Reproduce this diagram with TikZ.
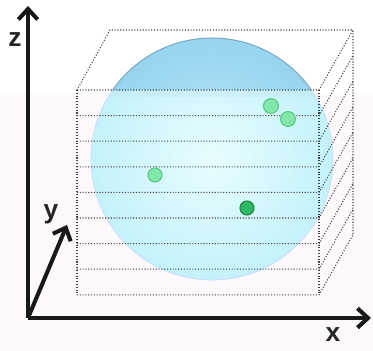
\documentclass[tikz,border=0pt]{standalone}
\usepackage{fontspec}
\setmainfont{Liberation Sans}
\usetikzlibrary{arrows.meta}
\definecolor{pagetint}{RGB}{253,248,251}
\definecolor{spherein}{RGB}{232,253,255}
\definecolor{sphereout}{RGB}{196,242,250}
\definecolor{capin}{RGB}{190,230,247}
\definecolor{capout}{RGB}{150,212,240}
\definecolor{capedge}{RGB}{125,170,195}
\definecolor{atomfill}{RGB}{130,232,170}
\definecolor{atomedge}{RGB}{90,200,135}
\definecolor{atomdark}{RGB}{45,185,100}
\definecolor{atomdarkedge}{RGB}{30,130,70}
\begin{document}
\begin{tikzpicture}[x=0.02cm,y=-0.02cm,
  axis/.style={line width=2.3pt,black!90,-{Straight Barb[length=6pt,width=11pt,line width=2.3pt]}},
  slice/.style={densely dotted,line width=0.6pt,black!75},
  atom/.style={circle,draw=atomedge,fill=atomfill,line width=0.6pt,inner sep=0pt,minimum size=8.5pt},
  lbl/.style={font=\fontsize{15}{17}\selectfont\bfseries,text=black!85}]
\useasboundingbox (0,0) rectangle (373,351);
\fill[pagetint] (0,93) rectangle (373,351);

% sphere
\coordinate (c) at (212,159);
\shade[inner color=spherein,outer color=sphereout] (c) circle (2.42cm);
\begin{scope}
\clip (0,0) rectangle (373,90);
\shade[inner color=capin,outer color=capout] (c) circle (2.42cm);
\draw[capedge,line width=0.6pt] (c) circle (2.42cm);
\end{scope}
\begin{scope}
\clip (c) circle (2.42cm);
\fill[capin,opacity=0.35] (0,90) rectangle (373,97);
\end{scope}
\begin{scope}
\clip (0,90) rectangle (373,351);
\draw[sphereout!80!blue!60,line width=0.4pt] (c) circle (2.42cm);
\end{scope}

% slices of the box
\coordinate (tbl) at (110,30);
\coordinate (tbr) at (353,30);
\coordinate (bbr) at (353,235);
\foreach \i in {0,...,8}{
  \coordinate (l\i) at (77,90+25.6*\i);
  \coordinate (r\i) at (319,90+25.6*\i);
  \coordinate (b\i) at (353,30+25.6*\i);
  \draw[slice] (l\i) -- (r\i) -- (b\i);
}
\draw[slice] (l0) -- (tbl) -- (tbr) -- (bbr);
\draw[slice] (l0) -- (l8);
\draw[slice] (r0) -- (r8);

% atoms
\node[atom] (a1) at (271,106) {};
\node[atom] (a2) at (288,119) {};
\node[atom,minimum size=8pt] (a3) at (155,175) {};
\node[atom,minimum size=8pt,draw=atomdarkedge,fill=atomdark] (a4) at (247,208) {};

% axes
\coordinate (o) at (28,318);
\coordinate (zt) at (28,6);
\coordinate (xt) at (371,318);
\coordinate (yt) at (67,225);
\draw[axis] (o) -- (zt);
\draw[axis] (o) -- (xt);
\draw[axis] (o) -- (yt);
\node[lbl] (zl) at (15,40) {z};
\node[lbl] (yl) at (51,214) {y};
\node[lbl] (xl) at (333,335) {x};
\end{tikzpicture}
\end{document}
